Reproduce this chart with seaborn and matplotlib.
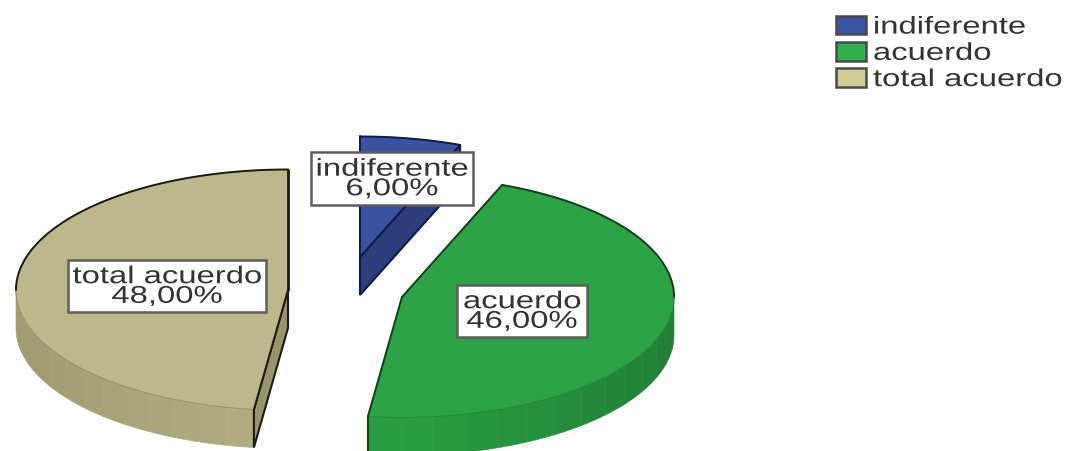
import numpy as np
import matplotlib
matplotlib.use("Agg")
import matplotlib.pyplot as plt
import matplotlib.patheffects as pe
from matplotlib.colors import to_rgb
from matplotlib.patches import Rectangle
from matplotlib.transforms import Affine2D
import seaborn as sns

categories = ["indiferente", "acuerdo", "total acuerdo"]
shares = [6.0, 46.0, 48.0]

top_colors = ["#3953A0", "#2CA445", "#BDB88C"]
legend_colors = ["#3A55A5", "#2FB04A", "#D2CD95"]
wall_colors = ["#2C3E7C", "#248A3A", "#98956B"]
line_colors = ["#101A45", "#12401F", "#1A1A10"]
soft_colors = ["#2C3E7C", "#23893A", "#98956B"]
band_dark = ["#2C3E7C", "#1F8035", "#A09C72"]
band_light = ["#2C3E7C", "#2B9E42", "#B4AF85"]

W, H = 1065, 451
RX, RY, DEPTH = 272.0, 120.5, 38.0
apex_px = [(360, 257), (402, 297), (288, 290)]
box_px = [(311, 152, 473, 205), (457, 285, 587, 337), (68, 260, 266, 312)]
FS = 17.5
STRETCH = 1.35


class StretchX(pe.AbstractPathEffect):
    """Widens text about a pivot, as in the horizontally stretched reference."""

    def __init__(self, pivot, factor):
        super().__init__()
        self.pivot, self.factor = pivot, factor

    def draw_path(self, renderer, gc, tpath, affine, rgbFace=None):
        extra = Affine2D().translate(-self.pivot, 0).scale(self.factor, 1).translate(self.pivot, 0)
        renderer.draw_path(gc, tpath, affine + extra, rgbFace)


sns.set_theme(style="white")
plt.rcParams["font.family"] = ["Liberation Sans"]

fig = plt.figure(figsize=(W / 100, H / 100), dpi=100)
ax = fig.add_axes([0, 0, 1, 1])


def to_data(px, py):
    return px / RX, (H - py) / RY


def blend(a, b, t):
    a, b = np.array(to_rgb(a)), np.array(to_rgb(b))
    return tuple(a + (b - a) * t)


fracs = np.cumsum([0] + shares) / 100.0
starts = np.pi / 2 - 2 * np.pi * fracs[:-1]
ends = np.pi / 2 - 2 * np.pi * fracs[1:]
d = DEPTH / RY
# part of each outer arc that gets the dark outline
outline_arc = [(starts[0], ends[0]), (starts[1], 0.0), (-np.pi, ends[2])]

for i in (2, 0, 1):
    cx, cy = to_data(*apex_px[i])
    if ends[i] < 0 and min(starts[i], 0) > max(ends[i], -np.pi):
        edges = np.linspace(min(starts[i], 0), max(ends[i], -np.pi), 15)
        for k in range(len(edges) - 1):
            th = np.linspace(edges[k], edges[k + 1], 6)
            x = cx + np.cos(th)
            y = cy + np.sin(th)
            t = np.abs(np.cos(th.mean()))
            ax.fill(np.r_[x, x[::-1]], np.r_[y, y[::-1] - d],
                    color=blend(band_light[i], band_dark[i], t), lw=0.4, zorder=2 + i * 0.01)
    wall_angle = {0: ends[0], 2: starts[2]}.get(i)
    if wall_angle is not None:
        ex, ey = cx + np.cos(wall_angle), cy + np.sin(wall_angle)
        ax.fill([cx, ex, ex, cx], [cy, ey, ey - d, cy - d], facecolor=wall_colors[i],
                edgecolor=line_colors[i], lw=1.5, zorder=3)
    wedges, _ = ax.pie(shares, startangle=90, counterclock=False, center=(cx, cy), radius=1,
                       colors=[top_colors[i]] * 3,
                       wedgeprops=dict(edgecolor=soft_colors[i], linewidth=0.8, zorder=4))
    for j, w in enumerate(wedges):
        if j != i:
            w.remove()
    # dark outline: both cut edges and the far side of the rim
    a0, a1 = outline_arc[i]
    th = np.linspace(a0, a1, 80)
    ax.plot(cx + np.cos(th), cy + np.sin(th), color=line_colors[i], lw=1.4, zorder=5)
    for ang in (starts[i], ends[i]):
        ax.plot([cx, cx + np.cos(ang)], [cy, cy + np.sin(ang)], color=line_colors[i],
                lw=2.0 if (i == 2 and ang == ends[2]) else 1.4, zorder=5)

cx, cy = to_data(*apex_px[1])
ex, ey = cx + np.cos(ends[1]), cy + np.sin(ends[1])
ax.plot([ex, ex], [ey, ey - d], color=line_colors[1], lw=1.5, zorder=5)

ax.set_aspect("auto")
ax.set_xlim(0, W / RX)
ax.set_ylim(0, H / RY)
ax.axis("off")

for i, (name, v) in enumerate(zip(categories, shares)):
    x0, y0, x1, y1 = box_px[i]
    (dx0, dy1), (dx1, dy0) = to_data(x0, y0), to_data(x1, y1)
    ax.add_patch(Rectangle((dx0, dy0), dx1 - dx0, dy1 - dy0, facecolor="white", edgecolor="#5E5E5E",
                           linewidth=1.8, zorder=9))
    mx, my = (x0 + x1) / 2, (y0 + y1) / 2 + 1
    ax.text(*to_data(mx, my), f"{name}\n{v:.2f}%".replace(".", ","), ha="center", va="center",
            fontsize=FS, color="#333333", linespacing=0.86, zorder=10,
            path_effects=[StretchX(mx, STRETCH)])

proxies = [Rectangle((0, 0), 1, 1, facecolor=c, edgecolor="#4A4A4A", linewidth=1.8) for c in legend_colors]
leg = ax.legend(proxies, categories, loc="upper left", bbox_to_anchor=(836 / W, 1 - 16 / H),
                bbox_transform=fig.transFigure, frameon=False, fontsize=FS, borderpad=0, borderaxespad=0,
                handlelength=1.24, handleheight=0.78, handletextpad=0.28, labelspacing=0.15,
                labelcolor="#333333")
fig.canvas.draw()
for txt in leg.get_texts():
    txt.set_path_effects([StretchX(txt.get_window_extent().x0, STRETCH)])

fig.savefig("out.png", dpi=100)
